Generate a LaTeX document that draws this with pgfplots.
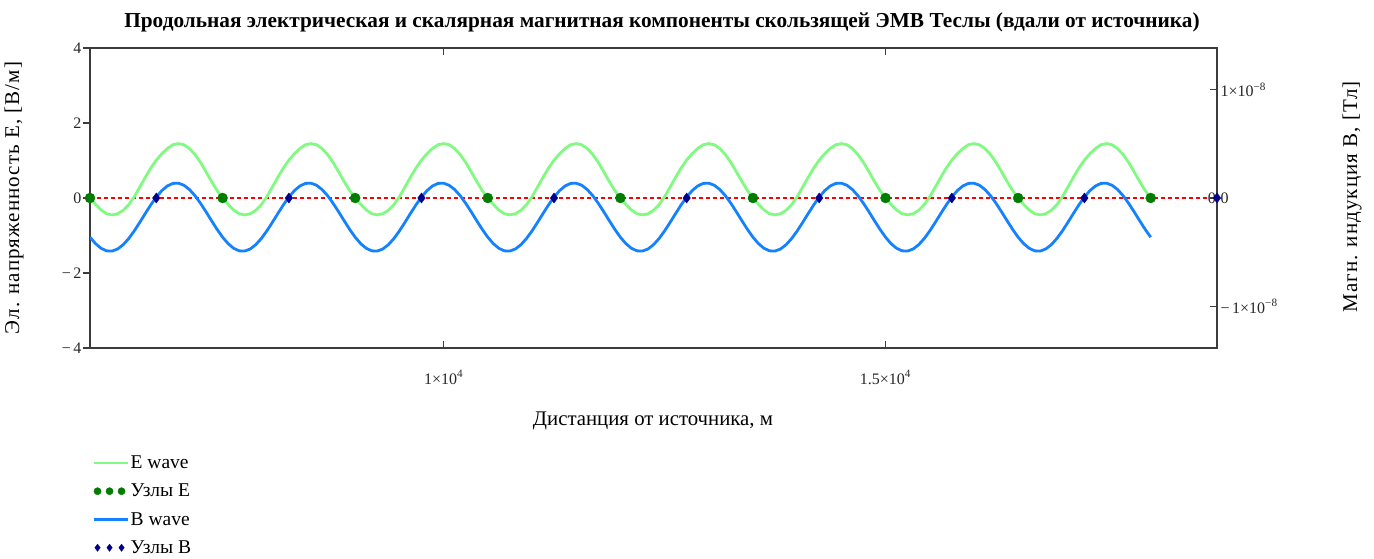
\documentclass[border=0pt]{standalone}
\usepackage{fontspec}
\setmainfont{Liberation Serif}
\usepackage{pgfplots}
\pgfplotsset{compat=1.18}
\usepackage{pgfplotstable}

\definecolor{ewave}{RGB}{128,250,128}
\definecolor{bwave}{RGB}{20,130,255}
\definecolor{enode}{RGB}{0,125,0}
\definecolor{bnode}{RGB}{0,0,140}
\definecolor{axcol}{RGB}{60,60,60}

% x [m], E [V/m], B [T]
\pgfplotstableread{
x E B
6000 0 -3.618e-9
6062.5 -0.17 -4.214e-9
6125 -0.32 -4.643e-9
6187.5 -0.42 -4.879e-9
6250 -0.45 -4.899e-9
6312.5 -0.42 -4.709e-9
6375 -0.33 -4.314e-9
6437.5 -0.18 -3.750e-9
6500 0.03 -3.047e-9
6562.5 0.29 -2.258e-9
6625 0.55 -1.437e-9
6687.5 0.80 -0.637e-9
6750 1.01 0.087e-9
6812.5 1.18 0.682e-9
6875 1.32 1.111e-9
6937.5 1.42 1.347e-9
7000 1.45 1.368e-9
7062.5 1.42 1.177e-9
7125 1.32 0.783e-9
7187.5 1.16 0.218e-9
7250 0.95 -0.485e-9
7312.5 0.70 -1.274e-9
7375 0.44 -2.095e-9
7437.5 0.20 -2.895e-9
7500 0 -3.618e-9
7562.5 -0.17 -4.214e-9
7625 -0.32 -4.643e-9
7687.5 -0.42 -4.879e-9
7750 -0.45 -4.899e-9
7812.5 -0.42 -4.709e-9
7875 -0.33 -4.314e-9
7937.5 -0.18 -3.750e-9
8000 0.03 -3.047e-9
8062.5 0.29 -2.258e-9
8125 0.55 -1.437e-9
8187.5 0.80 -0.637e-9
8250 1.01 0.087e-9
8312.5 1.18 0.682e-9
8375 1.32 1.111e-9
8437.5 1.42 1.347e-9
8500 1.45 1.368e-9
8562.5 1.42 1.177e-9
8625 1.32 0.783e-9
8687.5 1.16 0.218e-9
8750 0.95 -0.485e-9
8812.5 0.70 -1.274e-9
8875 0.44 -2.095e-9
8937.5 0.20 -2.895e-9
9000 0 -3.618e-9
9062.5 -0.17 -4.214e-9
9125 -0.32 -4.643e-9
9187.5 -0.42 -4.879e-9
9250 -0.45 -4.899e-9
9312.5 -0.42 -4.709e-9
9375 -0.33 -4.314e-9
9437.5 -0.18 -3.750e-9
9500 0.03 -3.047e-9
9562.5 0.29 -2.258e-9
9625 0.55 -1.437e-9
9687.5 0.80 -0.637e-9
9750 1.01 0.087e-9
9812.5 1.18 0.682e-9
9875 1.32 1.111e-9
9937.5 1.42 1.347e-9
10000 1.45 1.368e-9
10062.5 1.42 1.177e-9
10125 1.32 0.783e-9
10187.5 1.16 0.218e-9
10250 0.95 -0.485e-9
10312.5 0.70 -1.274e-9
10375 0.44 -2.095e-9
10437.5 0.20 -2.895e-9
10500 0 -3.618e-9
10562.5 -0.17 -4.214e-9
10625 -0.32 -4.643e-9
10687.5 -0.42 -4.879e-9
10750 -0.45 -4.899e-9
10812.5 -0.42 -4.709e-9
10875 -0.33 -4.314e-9
10937.5 -0.18 -3.750e-9
11000 0.03 -3.047e-9
11062.5 0.29 -2.258e-9
11125 0.55 -1.437e-9
11187.5 0.80 -0.637e-9
11250 1.01 0.087e-9
11312.5 1.18 0.682e-9
11375 1.32 1.111e-9
11437.5 1.42 1.347e-9
11500 1.45 1.368e-9
11562.5 1.42 1.177e-9
11625 1.32 0.783e-9
11687.5 1.16 0.218e-9
11750 0.95 -0.485e-9
11812.5 0.70 -1.274e-9
11875 0.44 -2.095e-9
11937.5 0.20 -2.895e-9
12000 0 -3.618e-9
12062.5 -0.17 -4.214e-9
12125 -0.32 -4.643e-9
12187.5 -0.42 -4.879e-9
12250 -0.45 -4.899e-9
12312.5 -0.42 -4.709e-9
12375 -0.33 -4.314e-9
12437.5 -0.18 -3.750e-9
12500 0.03 -3.047e-9
12562.5 0.29 -2.258e-9
12625 0.55 -1.437e-9
12687.5 0.80 -0.637e-9
12750 1.01 0.087e-9
12812.5 1.18 0.682e-9
12875 1.32 1.111e-9
12937.5 1.42 1.347e-9
13000 1.45 1.368e-9
13062.5 1.42 1.177e-9
13125 1.32 0.783e-9
13187.5 1.16 0.218e-9
13250 0.95 -0.485e-9
13312.5 0.70 -1.274e-9
13375 0.44 -2.095e-9
13437.5 0.20 -2.895e-9
13500 0 -3.618e-9
13562.5 -0.17 -4.214e-9
13625 -0.32 -4.643e-9
13687.5 -0.42 -4.879e-9
13750 -0.45 -4.899e-9
13812.5 -0.42 -4.709e-9
13875 -0.33 -4.314e-9
13937.5 -0.18 -3.750e-9
14000 0.03 -3.047e-9
14062.5 0.29 -2.258e-9
14125 0.55 -1.437e-9
14187.5 0.80 -0.637e-9
14250 1.01 0.087e-9
14312.5 1.18 0.682e-9
14375 1.32 1.111e-9
14437.5 1.42 1.347e-9
14500 1.45 1.368e-9
14562.5 1.42 1.177e-9
14625 1.32 0.783e-9
14687.5 1.16 0.218e-9
14750 0.95 -0.485e-9
14812.5 0.70 -1.274e-9
14875 0.44 -2.095e-9
14937.5 0.20 -2.895e-9
15000 0 -3.618e-9
15062.5 -0.17 -4.214e-9
15125 -0.32 -4.643e-9
15187.5 -0.42 -4.879e-9
15250 -0.45 -4.899e-9
15312.5 -0.42 -4.709e-9
15375 -0.33 -4.314e-9
15437.5 -0.18 -3.750e-9
15500 0.03 -3.047e-9
15562.5 0.29 -2.258e-9
15625 0.55 -1.437e-9
15687.5 0.80 -0.637e-9
15750 1.01 0.087e-9
15812.5 1.18 0.682e-9
15875 1.32 1.111e-9
15937.5 1.42 1.347e-9
16000 1.45 1.368e-9
16062.5 1.42 1.177e-9
16125 1.32 0.783e-9
16187.5 1.16 0.218e-9
16250 0.95 -0.485e-9
16312.5 0.70 -1.274e-9
16375 0.44 -2.095e-9
16437.5 0.20 -2.895e-9
16500 0 -3.618e-9
16562.5 -0.17 -4.214e-9
16625 -0.32 -4.643e-9
16687.5 -0.42 -4.879e-9
16750 -0.45 -4.899e-9
16812.5 -0.42 -4.709e-9
16875 -0.33 -4.314e-9
16937.5 -0.18 -3.750e-9
17000 0.03 -3.047e-9
17062.5 0.29 -2.258e-9
17125 0.55 -1.437e-9
17187.5 0.80 -0.637e-9
17250 1.01 0.087e-9
17312.5 1.18 0.682e-9
17375 1.32 1.111e-9
17437.5 1.42 1.347e-9
17500 1.45 1.368e-9
17562.5 1.42 1.177e-9
17625 1.32 0.783e-9
17687.5 1.16 0.218e-9
17750 0.95 -0.485e-9
17812.5 0.70 -1.274e-9
17875 0.44 -2.095e-9
17937.5 0.20 -2.895e-9
18000 0 -3.618e-9
}\wavedata

\pgfplotstableread{
x y
6000 0
7500 0
9000 0
10500 0
12000 0
13500 0
15000 0
16500 0
18000 0
}\enodes

\pgfplotstableread{
x y
6750 0
8250 0
9750 0
11250 0
12750 0
14250 0
15750 0
17250 0
18750 0
}\bnodes

\pgfplotsset{
  linelegend/.style={legend image code/.code={\draw[##1, line width=2.2pt] (0pt,0pt) -- (34pt,0pt);}},
  dotlegend/.style={legend image code/.code={\draw[##1, mark size=3.6pt, mark repeat=1, mark phase=1] plot[only marks] coordinates {(4pt,0pt) (16pt,0pt) (28pt,0pt)};}},
  myaxis/.style={
    at={(0pt,0pt)}, anchor=south west,
    scale only axis, width=1127pt, height=300pt,
    xmin=6000, xmax=18750,
    scaled ticks=false,
    tick label style={font=\fontsize{16}{19}\selectfont, text=black!85},
    tick style={line width=1.2pt, axcol},
    axis line style={line width=1.2pt, axcol},
    major tick length=7pt,
  },
}

\begin{document}
\begin{tikzpicture}
\begin{axis}[myaxis,
  ymin=-4, ymax=4,
  xtick={10000,15000},
  xticklabels={1×10\textsuperscript{4}, 1.5×10\textsuperscript{4}},
  xticklabel style={yshift=-19pt},
  ytick={-4,-2,0,2,4},
  yticklabels={−\,4,−\,2,0,2,4},
  ytick pos=left,
  tick align=inside,
  ytick style={xshift=-7pt},
  yticklabel style={xshift=-5pt},
]
\addplot[red, line width=1.4pt, dash pattern=on 4pt off 3pt] coordinates {(6000,0) (18750,0)};
\addplot[ewave, line width=2.8pt] table[x=x, y=E] {\wavedata};
\addplot[only marks, mark=*, mark size=5pt, enode, mark options={fill=enode, draw=enode}] table[x=x, y=y] {\enodes};
\end{axis}
\begin{axis}[myaxis,
  ymin=-1.385e-8, ymax=1.385e-8,
  axis x line=none, axis y line*=right,
  tick align=inside,
  ytick={-1e-8,0,1e-8},
  yticklabels={−\,1×10\textsuperscript{−8},0,1×10\textsuperscript{−8}},
  legend style={at={(0.002,-0.352)}, anchor=north west, draw=none, fill=none,
    font=\fontsize{19.5}{22}\selectfont, row sep=10pt, inner sep=0pt},
  legend cell align=left,
]
\addlegendimage{ewave, line width=2.8pt, linelegend}
\addlegendentry{E wave}
\addlegendimage{only marks, mark=*, mark size=5pt, enode, mark options={fill=enode, draw=enode}, dotlegend}
\addlegendentry{Узлы E}
\addplot[bwave, line width=2.8pt, linelegend] table[x=x, y=B] {\wavedata};
\addlegendentry{B wave}
\addplot[only marks, mark=diamond*, mark size=5pt, bnode, mark options={fill=bnode, draw=bnode}, dotlegend] table[x=x, y=y] {\bnodes};
\addlegendentry{Узлы B}
\node[anchor=east, inner sep=1pt, font=\fontsize{16}{19}\selectfont, text=black!85] at (rel axis cs:1,0.5) {0};
\end{axis}
\node[anchor=base, font=\fontsize{21.3}{25}\selectfont\bfseries] at (572pt,320pt) {Продольная электрическая и скалярная магнитная компоненты скользящей ЭМВ Теслы (вдали от источника)};
\node[rotate=90, font=\fontsize{21}{24}\selectfont\addfontfeatures{LetterSpace=5}] at (-76pt,150pt) {Эл. напряженность E, [В/м]};
\node[rotate=90, font=\fontsize{21}{24}\selectfont\addfontfeatures{LetterSpace=5}] at (1262pt,151pt) {Магн. индукция B, [Тл]};
\node[anchor=base, font=\fontsize{20.8}{24}\selectfont] at (563pt,-78pt) {Дистанция от источника, м};
\pgfresetboundingbox
\path (-90pt,-211pt) rectangle (1284pt,348pt);
\end{tikzpicture}
\end{document}
